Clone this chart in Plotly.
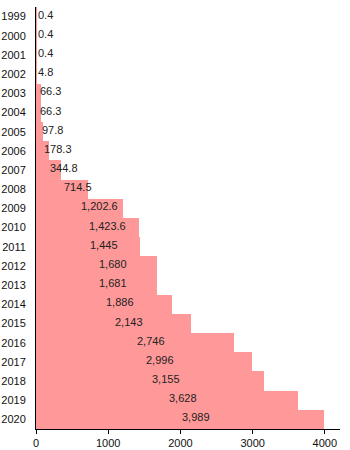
import plotly.graph_objects as go

years = [str(y) for y in range(1999, 2021)]
values = [0.4, 0.4, 0.4, 4.8, 66.3, 66.3, 97.8, 178.3, 344.8, 714.5, 1202.6,
          1423.6, 1445, 1680, 1681, 1886, 2143, 2746, 2996, 3155, 3628, 3989]
x_ticks = [0, 1000, 2000, 3000, 4000]


def fmt(v):
    if float(v).is_integer():
        return f"{int(v):,}"
    return f"{v:,.1f}"


fig = go.Figure()
fig.add_trace(go.Bar(
    y=years, x=values, orientation="h",
    marker=dict(color="#ff9999", line=dict(width=0)),
    hoverinfo="skip",
))

# value labels start halfway along each bar (y given as category index)
for i, v in enumerate(values):
    fig.add_annotation(
        x=v / 2, y=i, text=fmt(v), showarrow=False,
        xanchor="left", yanchor="middle", yshift=2,
        font=dict(size=11, color="#222222"),
    )

fig.update_layout(
    width=350, height=450,
    margin=dict(l=36, r=10, t=7, b=21),
    paper_bgcolor="white", plot_bgcolor="white",
    bargap=0, showlegend=False,
    font=dict(family="Liberation Sans, Arial, sans-serif", size=11, color="#111111"),
)
fig.update_xaxes(
    range=[0, 4210], tickvals=x_ticks, tickformat="d",
    showline=True, linecolor="black", linewidth=1,
    ticks="outside", ticklen=4, tickcolor="black", ticklabelstandoff=0,
    showgrid=False, zeroline=False, automargin=False,
)
fig.update_yaxes(
    type="category", categoryarray=years, categoryorder="array",
    range=[len(years) - 0.5, -0.5], autorange=False,
    showline=True, linecolor="black", linewidth=1,
    ticks="", ticklabelstandoff=7,
    showgrid=False, zeroline=False, automargin=False,
)

fig.write_html("out.html")
